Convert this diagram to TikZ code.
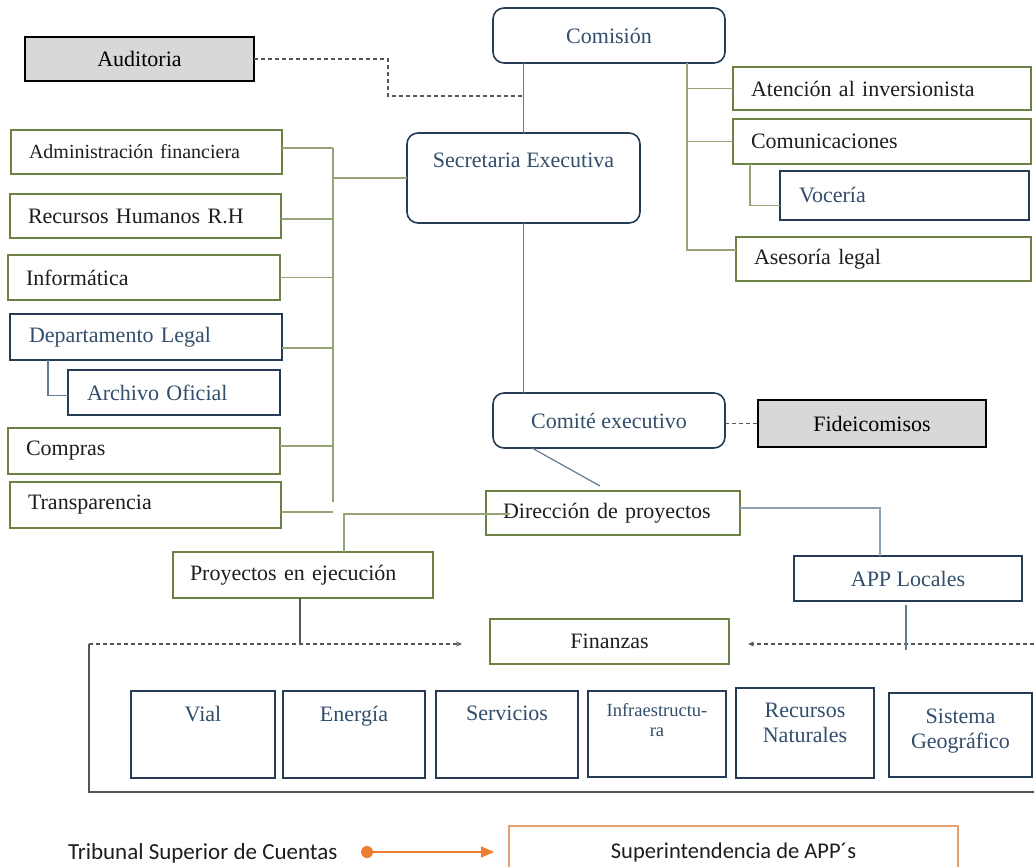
\documentclass[tikz,border=0pt]{standalone}
\usepackage{fontspec}
\setmainfont{Liberation Serif}
\newfontfamily\sansfam{Carlito}
\usetikzlibrary{arrows.meta,calc}

\definecolor{olivebd}{RGB}{108,130,68}
\definecolor{navybd}{RGB}{38,60,86}
\definecolor{slatetx}{RGB}{50,78,108}
\definecolor{stemln}{RGB}{100,122,145}
\definecolor{lightln}{RGB}{140,160,180}
\definecolor{oliveln}{RGB}{150,165,118}
\definecolor{dashln}{RGB}{85,85,85}
\definecolor{grayfill}{RGB}{216,216,216}
\definecolor{orangeac}{RGB}{237,125,49}
\definecolor{orangebd}{RGB}{232,160,112}
\definecolor{darktx}{RGB}{30,30,30}

\tikzset{
  basebox/.style={anchor=north west, inner sep=0pt, outer sep=0pt,
    font=\fontsize{22}{25}\selectfont},
  gbox/.style={basebox, draw=olivebd, line width=2pt, text=darktx,
    align=left, inner xsep=18pt},
  bbox/.style={basebox, draw=navybd, line width=2pt, text=slatetx,
    align=left, inner xsep=19pt},
  rbox/.style={basebox, draw=navybd, line width=1.6pt, rounded corners=11pt,
    text=slatetx, align=center},
  shbox/.style={basebox, draw=black, line width=2.2pt, fill=grayfill,
    text=black, align=center},
  cbox/.style={basebox, draw=navybd, line width=2pt, text=slatetx, align=center},
  catbox/.style={basebox, draw=navybd, line width=2.3pt, text=slatetx},
  supbox/.style={basebox, draw=orangebd, line width=1.6pt, text=darktx,
    align=center, font=\sansfam\fontsize{22.5}{26}\selectfont},
  stemline/.style={draw=stemln, line width=1.2pt},
  lightline/.style={draw=lightln, line width=1.2pt},
  gline/.style={draw=oliveln, line width=1.3pt},
  dline/.style={draw=dashln, line width=1.2pt, dash pattern=on 4pt off 3pt},
  frameline/.style={draw=dashln, line width=1.2pt},
  smalltip/.style={-{Stealth[length=6pt,width=5pt]}},
}

\begin{document}
\begin{tikzpicture}[x=1pt,y=-1pt]
\fill[white] (0,0) rectangle (1034,867);
\useasboundingbox (0,0) rectangle (1034,867);

% ---------- top level ----------
\node[rbox, minimum width=232pt, minimum height=55pt] (com) at (493,8) {Comisión};
\node[shbox, minimum width=229pt, minimum height=44pt] (aud) at (25,37) {Auditoria};
\node[rbox] (sec) at (407,133)
  {\parbox[c][90pt][t]{233pt}{\centering\rule{0pt}{34pt}Secretaria Executiva}};

% ---------- right column ----------
\node[gbox, text width=262pt, minimum height=43pt] (ate) at (733,67) {Atención al inversionista};
\node[gbox, text width=262pt, minimum height=45pt] (comu) at (733,119) {Comunicaciones};
\node[bbox, text width=211pt, minimum height=49pt] (voc) at (780,171) {Vocería};
\node[gbox, text width=259pt, minimum height=44pt] (ase) at (736,237) {Asesoría legal};

% ---------- left column ----------
\node[gbox, text width=235pt, minimum height=44pt, font=\fontsize{20}{24}\selectfont] (adm) at (11,130) {Administración financiera};
\node[gbox, text width=235pt, minimum height=44pt] (rh) at (10,194) {Recursos Humanos R.H};
\node[gbox, text width=236pt, minimum height=45pt] (inf) at (8,255) {Informática};
\node[bbox, text width=234pt, minimum height=46pt] (dep) at (10,314) {Departamento Legal};
\node[bbox, text width=174pt, minimum height=45pt] (arc) at (68,370) {Archivo Oficial};
\node[gbox, text width=236pt, minimum height=46pt] (comp) at (8,428) {Compras};
\node[gbox, text width=235pt, minimum height=46pt] (tra) at (10,482) {Transparencia};

% ---------- middle ----------
\node[rbox, minimum width=232pt, minimum height=55pt] (cmt) at (493,393) {Comité executivo};
\node[shbox, minimum width=228pt, minimum height=47pt] (fid) at (758,400) {Fideicomisos};
\node[gbox, inner xsep=17pt, text width=220pt, minimum height=44pt] (dir) at (486,491) {Dirección de proyectos};
\node[gbox, inner xsep=17pt, text width=226pt, minimum height=46pt] (pro) at (173,552) {Proyectos en ejecución};
\node[cbox, minimum width=228pt, minimum height=45pt] (app) at (794,556) {APP Locales};
\node[gbox, align=center, inner xsep=0pt, text width=239pt, minimum height=45pt] (fin) at (490,619) {Finanzas};

% ---------- project categories ----------
\node[catbox] (vial) at (131,691)
  {\parbox[c][87pt][t]{144pt}{\centering\rule{0pt}{30pt}Vial}};
\node[catbox] (ene) at (283,691)
  {\parbox[c][87pt][t]{142pt}{\centering\rule{0pt}{30pt}Energía}};
\node[catbox] (ser) at (436,691)
  {\parbox[c][87pt][t]{142pt}{\centering\rule{0pt}{29pt}Servicios}};
\node[catbox] (infra) at (588,691)
  {\parbox[c][86pt][t]{138pt}{\centering\fontsize{18.5}{20}\selectfont\rule{0pt}{25pt}Infraestructu-\\ra}};
\node[catbox] (rn) at (736,688)
  {\parbox[c][90pt][t]{138pt}{\centering\rule{0pt}{29pt}Recursos\\Naturales}};
\node[catbox] (sg) at (889,693)
  {\parbox[c][84pt][t]{143pt}{\centering\rule{0pt}{30pt}Sistema\\Geográfico}};

% ---------- footer ----------
\node[basebox, anchor=west, text=darktx, font=\sansfam\fontsize{23}{26}\selectfont] (trib) at (68,853) {Tribunal Superior de Cuentas};
\node[supbox, minimum width=449pt, minimum height=52pt] (sup) at (509,826) {Superintendencia de APP´s};

% ---------- connectors ----------
% main stem
\draw[stemline] (sec.north) -- (sec.north |- com.south);
\draw[stemline] (sec.south) -- (sec.south |- cmt.north);
% audit link
\coordinate (audk) at (388,96);
\draw[dline] (aud.east) -| (audk) -- (audk -| sec.north);

% right branch
\coordinate (rb) at ($(com.south west)+(194,0)$);
\draw[gline] (rb) |- (ate.west);
\draw[gline] (rb) |- (comu.west);
\draw[gline] (rb) |- ([yshift=9pt]ase.west);
\draw[gline] ($(comu.south west)+(17,0)$) |- ([yshift=-10pt]voc.west);

% left branch
\coordinate (lb) at (333,148);
\coordinate (lbe) at (333,502);
\draw[gline] (lb) -- (lbe);
\draw[gline] ([yshift=4pt]adm.east) -- (lb);
\draw[gline] ([yshift=-3pt]rh.east) -- ([yshift=-3pt]rh.east -| lb);
\draw[gline] (inf.east) -- (inf.east -| lb);
\draw[gline] ([yshift=-11pt]dep.east) -- ([yshift=-11pt]dep.east -| lb);
\draw[gline] ([yshift=5pt]comp.east) -- ([yshift=5pt]comp.east -| lb);
\draw[gline] ([yshift=-7pt]tra.east) -- ([yshift=-7pt]tra.east -| lb);
\draw[gline] (sec.west) -- (sec.west -| lb);
\draw[stemline] ($(dep.south west)+(38,0)$) |- ([yshift=-3pt]arc.west);

% executive committee
\draw[dline] (cmt.east |- fid.west) -- (fid.west);
\draw[stemline] ($(cmt.south west)+(39,0)$) -- ($(dir.north west)+(114,-5)$);
\draw[gline] ($(dir.west)+(24,1)$) -| ($(pro.north west)+(171,0)$);
\draw[lightline] ([yshift=5pt]dir.east) -| ($(app.north west)+(86,0)$);

% finance links and frame
\coordinate (fl) at (89,644);
\coordinate (fr) at (1034,644);
\draw[dline, smalltip] (fl) -- ($(fin.west)+(-28,2.5)$);
\draw[dline, smalltip] (fr) -- ($(fin.east)+(19,2.5)$);
\coordinate (ps) at ($(pro.south)+(-3,0)$);
\draw[frameline] (ps) -- (ps |- fl);
\draw[stemline] ($(app.south)+(-2,4)$) -- ($(app.south)+(-2,49)$);
\draw[frameline] (fl) -- (89,792) -- (1034,792);

% footer arrow
\coordinate (dot) at (367,852);
\fill[orangeac] (dot) circle (6pt);
\draw[orangeac, line width=1.3pt, -{Triangle[length=13pt,width=11pt]}] (dot) -- ([xshift=-15pt]sup.west);
\end{tikzpicture}
\end{document}
